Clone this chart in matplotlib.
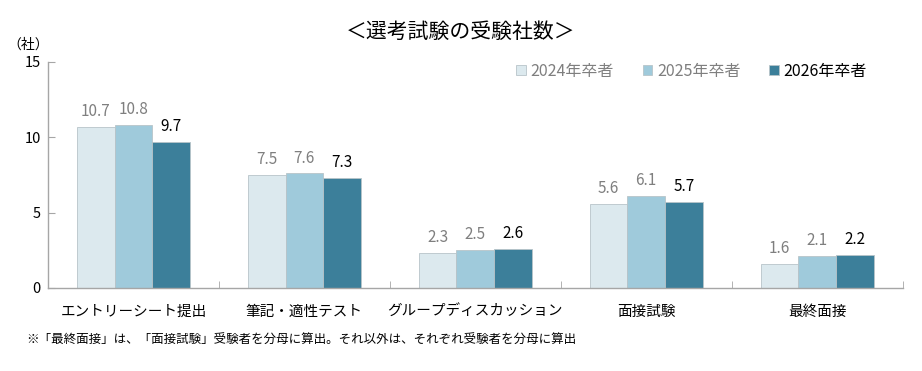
import numpy as np
import matplotlib
matplotlib.use("Agg")
import matplotlib.pyplot as plt
from matplotlib.patches import Patch

plt.rcParams['font.family'] = ['Noto Sans CJK JP', 'DejaVu Sans']

# data
categories = ['エントリーシート提出', '筆記・適性テスト', 'グループディスカッション', '面接試験', '最終面接']
series_names = ['2024年卒者', '2025年卒者', '2026年卒者']
vals_2024 = [10.7, 7.5, 2.3, 5.6, 1.6]
vals_2025 = [10.8, 7.6, 2.5, 6.1, 2.1]
vals_2026 = [9.7, 7.3, 2.6, 5.7, 2.2]
yticks = [0, 5, 10, 15]

colors = ['#dce9ee', '#9fcadb', '#3c7f9a']
label_colors = ['#7f7f7f', '#7f7f7f', '#000000']
axis_gray = '#a6a6a6'

fig = plt.figure(figsize=(9.22, 3.71), dpi=100)
ax = fig.add_axes([0.052, 0.224, 0.927, 0.609])

x = np.arange(len(categories))
w = 0.22
all_vals = [vals_2024, vals_2025, vals_2026]
for i, vals in enumerate(all_vals):
    pos = x + (i - 1) * w
    ax.bar(pos, vals, width=w, color=colors[i], edgecolor='#b8c4c9', linewidth=0.6, zorder=2)
    for px, v in zip(pos, vals):
        ax.text(px, v + 0.45, f'{v:.1f}', ha='center', va='bottom', fontsize=11,
                color=label_colors[i])

ax.set_xlim(-0.5, len(categories) - 0.5)
ax.set_ylim(0, 15)
ax.set_yticks(yticks)
ax.set_yticklabels([str(t) for t in yticks], fontsize=10.5)
ax.tick_params(axis='y', direction='in', length=5, color=axis_gray, pad=5)

# category boundary ticks on x axis
ax.set_xticks(np.arange(len(categories) + 1) - 0.5, minor=True)
ax.set_xticks(x)
ax.set_xticklabels(categories, fontsize=10.5)
ax.tick_params(axis='x', which='major', length=0, pad=12)
ax.tick_params(axis='x', which='minor', direction='in', length=5, color=axis_gray)

for s in ['top', 'right']:
    ax.spines[s].set_visible(False)
for s in ['left', 'bottom']:
    ax.spines[s].set_color(axis_gray)
    ax.spines[s].set_linewidth(1.0)

fig.text(0.031, 0.879, '（社）', fontsize=10, ha='center', va='center')

handles = [Patch(facecolor=colors[i], edgecolor='#b8c4c9', linewidth=0.6) for i in range(3)]
leg = ax.legend(handles, series_names, loc='upper right', bbox_to_anchor=(0.975, 1.06),
                ncol=3, frameon=False, fontsize=11.5, handlelength=0.6, handleheight=0.6,
                handletextpad=0.3, columnspacing=1.8)
for t, c in zip(leg.get_texts(), label_colors):
    t.set_color(c)

fig.text(0.5, 0.915, '＜選考試験の受験社数＞', ha='center', va='center', fontsize=15)
fig.text(0.028, 0.085, '※「最終面接」は、「面接試験」受験者を分母に算出。それ以外は、それぞれ受験者を分母に算出',
         ha='left', va='center', fontsize=9)

fig.savefig('out.png', dpi=100)
